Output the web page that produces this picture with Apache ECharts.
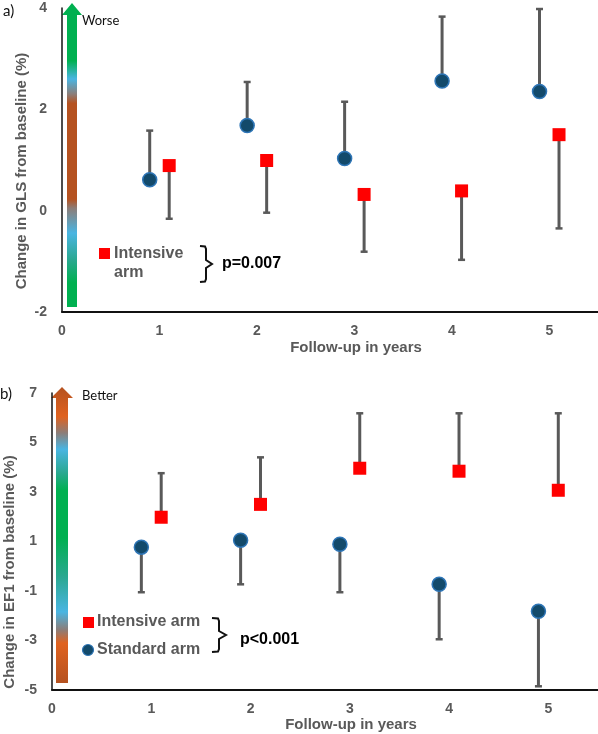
<!DOCTYPE html>
<html style="height: 100%">
<head>
	<meta charset="utf-8">
</head>
<body style="height: 100%; margin: 0; background: #fff">
<div id="container" style="width: 598px; height: 734px"></div>
<script type="text/javascript" src="https://cdn.jsdelivr.net/npm/echarts@6/dist/echarts.min.js"></script>
<script type="text/javascript">
    // follow-up years
    var years = [1, 2, 3, 4, 5];
    var xTicks = [0, 1, 2, 3, 4, 5];

    // panel a) change in GLS (%)
    var glsStandard = [0.61, 1.68, 1.03, 2.56, 2.35];
    var glsStandardUpper = [1.58, 2.54, 2.15, 3.83, 3.98];
    var glsIntensive = [0.89, 0.99, 0.32, 0.39, 1.50];
    var glsIntensiveLower = [-0.16, -0.04, -0.81, -0.97, -0.35];
    var glsTicks = [-2, 0, 2, 4];

    // panel b) change in EF1 (%)
    var ef1Intensive = [1.98, 2.50, 3.96, 3.84, 3.07];
    var ef1IntensiveUpper = [3.76, 4.40, 6.18, 6.18, 6.18];
    var ef1Standard = [0.77, 1.05, 0.89, -0.73, -1.82];
    var ef1StandardLower = [-1.05, -0.73, -1.05, -2.95, -4.85];
    var ef1Ticks = [-5, -3, -1, 1, 3, 5, 7];

    var shift = 0.1;
    var grey = '#595959';
    var font = '"Liberation Sans", Arial, sans-serif';

    var dom = document.getElementById("container");
    var myChart = echarts.init(dom);

    function pts(vals, dx) {
        return years.map(function (y, i) { return [y + dx, vals[i]]; });
    }
    function bars(vals, ends, dx) {
        return years.map(function (y, i) { return [y + dx, vals[i], ends[i]]; });
    }

    function errorBar(params, api) {
        var a = api.coord([api.value(0), api.value(1)]);
        var b = api.coord([api.value(0), api.value(2)]);
        return {
            type: 'group',
            children: [
                { type: 'line', shape: { x1: a[0], y1: a[1], x2: b[0], y2: b[1] }, style: { stroke: grey, lineWidth: 3 } },
                { type: 'line', shape: { x1: b[0] - 3.5, y1: b[1], x2: b[0] + 3.5, y2: b[1] }, style: { stroke: grey, lineWidth: 2.5 } }
            ]
        };
    }

    function xAxisCfg(idx) {
        return {
            gridIndex: idx, type: 'value', min: 0, max: 5.5,
            axisLine: { show: true, onZero: false, lineStyle: { color: '#111', width: 2 } },
            axisTick: { show: false },
            splitLine: { show: false },
            axisLabel: { customValues: xTicks, margin: 12, color: grey, fontWeight: 'bold', fontSize: 14, fontFamily: font }
        };
    }
    function yAxisCfg(idx, min, max, ticks) {
        return {
            gridIndex: idx, type: 'value', min: min, max: max,
            axisLine: { show: true, onZero: false, lineStyle: { color: '#111', width: 1.5 } },
            axisTick: { show: false },
            splitLine: { show: false },
            axisLabel: { customValues: ticks, margin: 15, color: grey, fontWeight: 'bold', fontSize: 14, fontFamily: font }
        };
    }

    var circleStyle = { color: '#134a6b', borderColor: '#2e75b6', borderWidth: 1.5, opacity: 1 };
    var squareStyle = { color: '#ff0000', opacity: 1 };

    function arrowGrad(stops) {
        return {
            type: 'linear', x: 0, y: 0, x2: 0, y2: 1,
            colorStops: stops.map(function (s) { return { offset: s[0], color: s[1] }; })
        };
    }

    function brace(x0, xm, xt, y0, ym, y1) {
        return [[x0, y0], [xm - 1, y0 + 0.5], [xm, y0 + 3], [xm, ym - 4], [xt, ym], [xm, ym + 4], [xm, y1 - 3], [xm - 1, y1 - 0.5], [x0, y1]];
    }

    var option = {
        backgroundColor: '#fff',
        animation: false,
        grid: [
            { left: 62, top: 8, width: 536, height: 304 },
            { left: 52, top: 393, width: 546, height: 297 }
        ],
        xAxis: [xAxisCfg(0), xAxisCfg(1)],
        yAxis: [yAxisCfg(0, -2, 4, glsTicks), yAxisCfg(1, -5, 7, ef1Ticks)],
        series: [
            { type: 'custom', xAxisIndex: 0, yAxisIndex: 0, renderItem: errorBar, encode: { x: 0, y: [1, 2] }, data: bars(glsStandard, glsStandardUpper, -shift), z: 1 },
            { type: 'custom', xAxisIndex: 0, yAxisIndex: 0, renderItem: errorBar, encode: { x: 0, y: [1, 2] }, data: bars(glsIntensive, glsIntensiveLower, shift), z: 1 },
            { name: 'Standard arm', type: 'scatter', xAxisIndex: 0, yAxisIndex: 0, symbol: 'circle', symbolSize: 14, itemStyle: circleStyle, data: pts(glsStandard, -shift), z: 3 },
            { name: 'Intensive arm', type: 'scatter', xAxisIndex: 0, yAxisIndex: 0, symbol: 'rect', symbolSize: 13, itemStyle: squareStyle, data: pts(glsIntensive, shift), z: 3 },

            { type: 'custom', xAxisIndex: 1, yAxisIndex: 1, renderItem: errorBar, encode: { x: 0, y: [1, 2] }, data: bars(ef1Intensive, ef1IntensiveUpper, shift), z: 1 },
            { type: 'custom', xAxisIndex: 1, yAxisIndex: 1, renderItem: errorBar, encode: { x: 0, y: [1, 2] }, data: bars(ef1Standard, ef1StandardLower, -shift), z: 1 },
            { name: 'Intensive arm', type: 'scatter', xAxisIndex: 1, yAxisIndex: 1, symbol: 'rect', symbolSize: 13, itemStyle: squareStyle, data: pts(ef1Intensive, shift), z: 3 },
            { name: 'Standard arm', type: 'scatter', xAxisIndex: 1, yAxisIndex: 1, symbol: 'circle', symbolSize: 14, itemStyle: circleStyle, data: pts(ef1Standard, -shift), z: 3 }
        ],
        graphic: [
            // gradient arrows
            {
                type: 'polygon', z: 0,
                shape: { points: [[72, 3], [82, 15], [77, 15], [77, 307], [67, 307], [67, 15], [62, 15]] },
                style: { fill: arrowGrad([[0, '#00b050'], [0.19, '#00b050'], [0.25, '#4ab5e2'], [0.30, '#8c7d78'], [0.33, '#b55220'], [0.645, '#b55220'], [0.675, '#8c7d78'], [0.757, '#4ab5e2'], [0.845, '#2aa890'], [0.92, '#00b050'], [1, '#00b050']]) }
            },
            {
                type: 'polygon', z: 0,
                shape: { points: [[62, 387], [73, 398], [68, 398], [68, 683], [56, 683], [56, 398], [51, 398]] },
                style: { fill: arrowGrad([[0, '#b55220'], [0.10, '#e0621f'], [0.155, '#8c7d78'], [0.21, '#4ab5e2'], [0.29, '#2aa890'], [0.35, '#00b050'], [0.51, '#00b050'], [0.64, '#2aa890'], [0.76, '#4ab5e2'], [0.82, '#8c7d78'], [0.865, '#e0621f'], [1, '#b55220']]) }
            },
            { type: 'text', x: 82, y: 21, style: { text: 'Worse', verticalAlign: 'middle', fontSize: 13, fontFamily: 'Lato, sans-serif', fill: '#111' } },
            { type: 'text', x: 82, y: 396, style: { text: 'Better', verticalAlign: 'middle', fontSize: 13, fontFamily: 'Lato, sans-serif', fill: '#111' } },
            { type: 'text', x: 3, y: 11, style: { text: 'a)', verticalAlign: 'middle', fontSize: 15, fontFamily: 'Lato, sans-serif', fill: '#111' } },
            { type: 'text', x: 0, y: 394, style: { text: 'b)', verticalAlign: 'middle', fontSize: 15, fontFamily: 'Lato, sans-serif', fill: '#111' } },

            // axis titles
            { type: 'text', x: 22, y: 171, rotation: Math.PI / 2, style: { text: 'Change in GLS from baseline (%)', align: 'center', verticalAlign: 'middle', fontSize: 15, fontWeight: 'bold', fontFamily: font, fill: grey } },
            { type: 'text', x: 10, y: 572, rotation: Math.PI / 2, style: { text: 'Change in EF1 from baseline (%)', align: 'center', verticalAlign: 'middle', fontSize: 15, fontWeight: 'bold', fontFamily: font, fill: grey } },
            { type: 'text', x: 356, y: 348, style: { text: 'Follow-up in years', align: 'center', verticalAlign: 'middle', fontSize: 15, fontWeight: 'bold', fontFamily: font, fill: grey } },
            { type: 'text', x: 351, y: 725, style: { text: 'Follow-up in years', align: 'center', verticalAlign: 'middle', fontSize: 15, fontWeight: 'bold', fontFamily: font, fill: grey } },

            // legend a)
            { type: 'rect', shape: { x: 99, y: 248, width: 11, height: 11 }, style: { fill: '#ff0000' } },
            { type: 'text', x: 114, y: 254, style: { text: 'Intensive', verticalAlign: 'middle', fontSize: 16, fontWeight: 'bold', fontFamily: font, fill: grey } },
            { type: 'text', x: 114, y: 273, style: { text: 'arm', verticalAlign: 'middle', fontSize: 16, fontWeight: 'bold', fontFamily: font, fill: grey } },
            { type: 'polyline', shape: { points: brace(200, 206, 212, 246, 264, 282) }, style: { fill: 'none', stroke: '#111', lineWidth: 2 } },
            { type: 'text', x: 222, y: 264, style: { text: 'p=0.007', verticalAlign: 'middle', fontSize: 16, fontWeight: 'bold', fontFamily: font, fill: '#000' } },

            // legend b)
            { type: 'rect', shape: { x: 83, y: 617, width: 11, height: 11 }, style: { fill: '#ff0000' } },
            { type: 'text', x: 97, y: 622, style: { text: 'Intensive arm', verticalAlign: 'middle', fontSize: 16, fontWeight: 'bold', fontFamily: font, fill: grey } },
            { type: 'circle', shape: { cx: 88, cy: 650, r: 5.5 }, style: { fill: '#134a6b', stroke: '#2e75b6', lineWidth: 1.2 } },
            { type: 'text', x: 97, y: 650, style: { text: 'Standard arm', verticalAlign: 'middle', fontSize: 16, fontWeight: 'bold', fontFamily: font, fill: grey } },
            { type: 'polyline', shape: { points: brace(212, 219, 226, 618, 635, 652) }, style: { fill: 'none', stroke: '#111', lineWidth: 2 } },
            { type: 'text', x: 240, y: 640, style: { text: 'p<0.001', verticalAlign: 'middle', fontSize: 16, fontWeight: 'bold', fontFamily: font, fill: '#000' } }
        ]
    };

    myChart.setOption(option);
</script>
</body>
</html>
